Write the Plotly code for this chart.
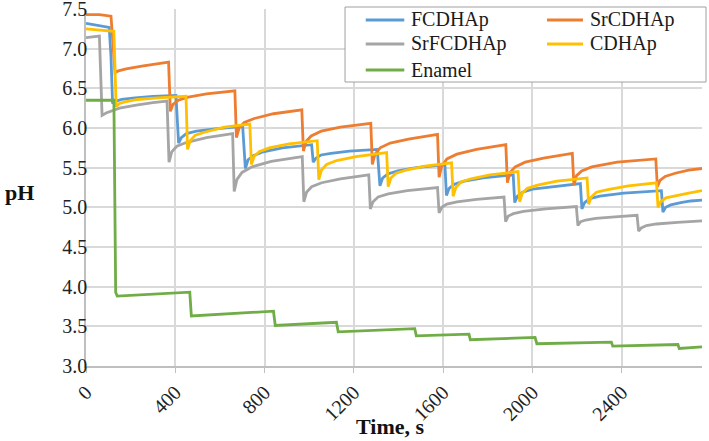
import plotly.graph_objects as go

# ---- data ----
fcdhap_t = [0, 50, 104, 112, 119, 135, 160, 220, 300, 403,
            415, 427, 450, 495, 580, 702,
            714, 726, 749, 794, 880, 1011,
            1018, 1030, 1053, 1098, 1180, 1305,
            1317, 1329, 1352, 1397, 1480, 1608,
            1615, 1627, 1650, 1695, 1780, 1914,
            1921, 1933, 1956, 2001, 2090, 2215,
            2222, 2234, 2257, 2302, 2410, 2578,
            2585, 2597, 2620, 2665, 2710, 2760]
fcdhap_ph = [7.32, 7.30, 7.27, 6.90, 6.31, 6.34, 6.36, 6.38, 6.40, 6.41,
             5.81, 5.88, 5.93, 5.96, 5.99, 6.02,
             5.49, 5.60, 5.65, 5.70, 5.75, 5.79,
             5.57, 5.62, 5.66, 5.68, 5.71, 5.73,
             5.27, 5.37, 5.42, 5.46, 5.50, 5.54,
             5.15, 5.24, 5.29, 5.33, 5.37, 5.41,
             5.06, 5.14, 5.19, 5.23, 5.26, 5.30,
             4.98, 5.06, 5.11, 5.14, 5.18, 5.21,
             4.94, 5.00, 5.03, 5.06, 5.08, 5.09]

srcdhap_t = [0, 60, 112, 130, 145, 180, 250, 320, 370,
             378, 390, 413, 458, 540, 667,
             674, 686, 709, 754, 840, 967,
             974, 986, 1009, 1054, 1140, 1276,
             1283, 1295, 1318, 1363, 1445, 1575,
             1582, 1594, 1617, 1662, 1750, 1881,
             1888, 1900, 1923, 1968, 2050, 2179,
             2186, 2198, 2221, 2266, 2380, 2553,
             2560, 2572, 2595, 2640, 2700, 2760]
srcdhap_ph = [7.43, 7.43, 7.41, 6.70, 6.72, 6.745, 6.78, 6.81, 6.83,
              6.21, 6.30, 6.35, 6.39, 6.43, 6.47,
              5.88, 6.00, 6.07, 6.12, 6.18, 6.23,
              5.71, 5.83, 5.90, 5.96, 6.01, 6.06,
              5.54, 5.67, 5.75, 5.81, 5.86, 5.92,
              5.38, 5.52, 5.61, 5.67, 5.73, 5.79,
              5.31, 5.44, 5.51, 5.57, 5.62, 5.68,
              5.28, 5.40, 5.46, 5.51, 5.57, 5.61,
              5.26, 5.34, 5.39, 5.43, 5.47, 5.49]

srfcdhap_t = [0, 60, 72, 90, 150, 225, 300, 363,
              372, 384, 407, 452, 540, 657,
              664, 676, 699, 744, 830, 969,
              976, 988, 1011, 1056, 1140, 1267,
              1274, 1286, 1309, 1354, 1440, 1575,
              1582, 1594, 1617, 1662, 1750, 1873,
              1880, 1892, 1915, 1960, 2060, 2197,
              2204, 2216, 2239, 2284, 2370, 2469,
              2476, 2488, 2511, 2556, 2650, 2760]
srfcdhap_ph = [7.14, 7.16, 6.16, 6.19, 6.25, 6.29, 6.32, 6.34,
               5.57, 5.70, 5.77, 5.82, 5.88, 5.93,
               5.20, 5.35, 5.44, 5.51, 5.58, 5.64,
               5.07, 5.19, 5.26, 5.31, 5.36, 5.41,
               4.98, 5.07, 5.13, 5.17, 5.21, 5.25,
               4.93, 5.00, 5.04, 5.07, 5.10, 5.13,
               4.82, 4.89, 4.92, 4.95, 4.98, 5.01,
               4.77, 4.82, 4.84, 4.86, 4.88, 4.90,
               4.70, 4.74, 4.77, 4.79, 4.81, 4.83]

cdhap_t = [0, 60, 125, 135, 150, 175, 230, 320, 448,
           455, 467, 490, 535, 620, 734,
           741, 753, 776, 821, 910, 1036,
           1043, 1055, 1078, 1123, 1210, 1347,
           1354, 1366, 1389, 1434, 1520, 1638,
           1645, 1657, 1680, 1725, 1810, 1936,
           1943, 1955, 1978, 2023, 2110, 2245,
           2252, 2264, 2287, 2332, 2430, 2556,
           2563, 2575, 2598, 2643, 2700, 2760]
cdhap_ph = [7.25, 7.24, 7.22, 6.27, 6.31, 6.33, 6.36, 6.38, 6.40,
            5.73, 5.84, 5.91, 5.95, 6.01, 6.05,
            5.54, 5.64, 5.70, 5.75, 5.80, 5.84,
            5.35, 5.47, 5.54, 5.59, 5.64, 5.69,
            5.26, 5.37, 5.43, 5.47, 5.52, 5.56,
            5.14, 5.25, 5.32, 5.36, 5.41, 5.45,
            5.07, 5.18, 5.24, 5.28, 5.33, 5.37,
            5.04, 5.13, 5.19, 5.22, 5.27, 5.31,
            5.00, 5.07, 5.12, 5.15, 5.18, 5.21]

enamel_t = [0, 125, 133, 140, 465, 472, 840, 848, 1122, 1130, 1473, 1480,
            1716, 1722, 2012, 2020, 2354, 2360, 2652, 2658, 2760]
enamel_ph = [6.35, 6.35, 3.93, 3.88, 3.93, 3.63, 3.69, 3.51, 3.55, 3.43, 3.47, 3.38,
             3.40, 3.33, 3.36, 3.28, 3.30, 3.25, 3.27, 3.22, 3.24]

x_ticks = [0, 400, 800, 1200, 1600, 2000, 2400]
y_ticks = [3.0, 3.5, 4.0, 4.5, 5.0, 5.5, 6.0, 6.5, 7.0, 7.5]
y_tick_labels = ["3.0", "3.5", "4.0", "4.5", "5.0", "5.5", "6.0", "6.5", "7.0", "7.5"]

series_names = ["FCDHAp", "SrCDHAp", "SrFCDHAp", "CDHAp", "Enamel"]
series_colors = ["#5B9BD5", "#ED7D31", "#A5A5A5", "#FFC000", "#70AD47"]

FONT = "Liberation Serif, Times New Roman, serif"
LW = 2.8

fig = go.Figure()
data = [(fcdhap_t, fcdhap_ph), (srcdhap_t, srcdhap_ph), (srfcdhap_t, srfcdhap_ph),
        (cdhap_t, cdhap_ph), (enamel_t, enamel_ph)]
for name, (t, v), c in zip(series_names, data, series_colors):
    fig.add_trace(go.Scatter(x=t, y=v, mode="lines", name=name,
                             line=dict(color=c, width=LW)))

# ---- legend drawn as a framed two-column box ----
shapes = [dict(type="rect", xref="paper", yref="paper",
               x0=0.4205, x1=1.0065, y0=0.7955, y1=1.0056,
               line=dict(color="#a0a0a0", width=1), fillcolor="white", layer="above")]
annotations = []
col_line = [(0.4541, 0.5167, 0.5244), (0.7484, 0.8068, 0.8149)]
row_y = [0.9692, 0.9020, 0.8291]
for i, (name, c) in enumerate(zip(series_names, series_colors)):
    col = i % 2
    row = i // 2
    x0, x1, xt = col_line[col]
    y = row_y[row]
    shapes.append(dict(type="line", xref="paper", yref="paper", x0=x0, x1=x1, y0=y, y1=y,
                       line=dict(color=c, width=3), layer="above"))
    annotations.append(dict(text=name, xref="paper", yref="paper", x=xt, y=y,
                            xanchor="left", yanchor="middle", showarrow=False,
                            font=dict(family=FONT, size=20, color="#1a1a1a")))

annotations += [
    dict(text="<b>pH</b>", xref="paper", yref="paper", x=-0.1347, y=0.4846,
         xanchor="left", yanchor="middle", showarrow=False,
         font=dict(family=FONT, size=22, color="#111")),
    dict(text="<b>Time, s</b>", xref="paper", yref="paper", x=0.494, y=-0.128,
         xanchor="center", yanchor="top", showarrow=False,
         font=dict(family=FONT, size=22, color="#111")),
]

fig.update_layout(
    width=709, height=441,
    margin=dict(l=86, r=7, t=9, b=75),
    paper_bgcolor="white", plot_bgcolor="white",
    showlegend=False,
    shapes=shapes,
    annotations=annotations,
    xaxis=dict(range=[0, 2760], tickvals=x_ticks, ticktext=[str(v) for v in x_ticks],
               tickangle=-45, showgrid=True, gridcolor="#d9d9d9", gridwidth=1.5,
               showline=True, linecolor="#bfbfbf", linewidth=1.5,
               ticks="outside", ticklen=5, tickcolor="#bfbfbf",
               tickfont=dict(family=FONT, size=20, color="#222"),
               zeroline=False, automargin=False),
    yaxis=dict(range=[2.999, 7.501], tickvals=y_ticks, ticktext=y_tick_labels,
               showgrid=True, gridcolor="#d9d9d9", gridwidth=1.5,
               showline=True, linecolor="#bfbfbf", linewidth=1.5,
               ticks="", ticklabelstandoff=-7, ticklabeloverflow="allow",
               tickfont=dict(family=FONT, size=20, color="#222"),
               zeroline=False, automargin=False),
)

fig.write_html("out.html", config={"displayModeBar": False},
               post_script="document.body.style.margin='0';document.body.style.overflow='hidden';")
